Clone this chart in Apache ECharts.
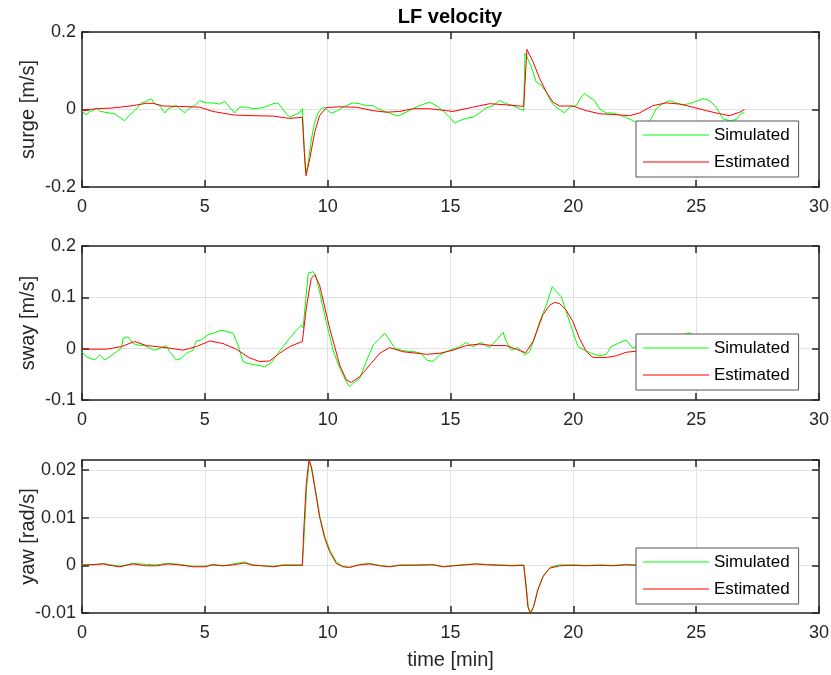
<!DOCTYPE html>
<html>
<head>
<meta charset="utf-8">
<script src="https://cdn.jsdelivr.net/npm/echarts@6/dist/echarts.min.js"></script>
<style>
html,body{margin:0;padding:0;background:#fff;}
#chart{width:831px;height:675px;}
</style>
</head>
<body>
<div id="chart"></div>
<script>
// ---------- data (time in min) ----------
const seriesNames = ['Simulated', 'Estimated'];
const xTicks = [0, 5, 10, 15, 20, 25, 30];
const titleText = 'LF velocity';
const yNames = ['surge [m/s]', 'sway [m/s]', 'yaw [rad/s]'];
const xName = 'time [min]';

// surge
const surgeSimT = [0,0.07,0.18,0.31,0.45,0.58,0.72,0.92,1.13,1.33,1.53,1.74,1.94,2.15,2.42,2.62,2.82,2.96,3.16,3.37,3.5,3.84,3.98,4.18,4.38,4.59,4.79,5.06,5.33,5.6,5.81,6.01,6.21,6.42,6.69,6.96,7.3,7.57,7.78,7.98,8.11,8.32,8.45,8.66,8.86,8.97,9.02,9.1,9.19,9.34,9.47,9.61,9.74,9.88,10.01,10.15,10.35,10.62,10.76,11.03,11.3,11.57,11.84,12.05,12.25,12.52,12.86,13.13,13.47,13.74,14.15,14.42,14.69,14.97,15.17,15.37,15.64,15.91,16.18,16.46,16.73,17.0,17.27,17.54,17.81,17.98,18.03,18.11,18.29,18.49,18.7,18.9,19.1,19.3,19.51,19.64,19.85,20.12,20.32,20.46,20.66,20.86,21.07,21.34,21.61,21.88,22.15,22.42,22.69,22.96,23.17,23.37,23.64,23.91,24.19,24.46,24.73,25.0,25.28,25.55,25.82,26.09,26.36,26.63,26.84,26.97];
const surgeSimV = [-0.003,-0.009,-0.014,-0.005,-0.003,0.004,-0.004,-0.007,-0.009,-0.011,-0.020,-0.029,-0.014,-0.003,0.017,0.021,0.028,0.015,0.010,-0.009,0.002,0.010,0.002,-0.009,0.004,0.010,0.023,0.017,0.017,0.014,0.021,0.006,-0.009,0.006,0.006,0.002,0.004,0.009,0.015,0.017,0.006,-0.011,-0.020,-0.014,-0.009,0.002,-0.068,-0.163,-0.146,-0.076,-0.033,-0.009,0.002,0.006,-0.003,-0.009,-0.005,0.006,0.010,0.017,0.015,0.010,0.010,0.002,-0.003,-0.009,-0.017,-0.009,0.002,0.010,0.019,0.010,-0.003,-0.020,-0.035,-0.029,-0.023,-0.020,-0.009,0.004,0.010,0.023,0.015,0.010,0.002,-0.003,0.145,0.136,0.110,0.071,0.062,0.045,0.019,0.006,-0.003,-0.009,0.006,0.010,0.032,0.041,0.032,0.023,0.002,-0.009,-0.009,-0.014,-0.020,-0.029,-0.033,-0.037,-0.024,0.002,0.015,0.023,0.017,0.012,0.015,0.021,0.028,0.023,0.006,-0.024,-0.029,-0.026,-0.009,-0.009];
const surgeEstT = [0,0.59,1.26,1.67,2.08,2.62,2.89,3.3,3.97,4.79,5.33,6.15,6.96,7.78,8.45,8.97,9.05,9.12,9.27,9.47,9.67,9.94,10.49,11.17,11.85,12.39,12.93,13.47,14.15,14.83,15.1,15.91,16.59,17.27,17.98,18.11,18.36,18.63,18.9,19.17,19.44,19.98,20.53,21.07,21.88,22.29,22.69,23.24,23.78,24.33,24.87,25.41,25.96,26.36,26.77,26.97];
const surgeEstV = [-0.003,0.002,0.004,0.007,0.010,0.016,0.016,0.009,0.008,0.006,-0.005,-0.014,-0.016,-0.017,-0.023,-0.020,-0.111,-0.171,-0.128,-0.059,-0.016,0.005,0.007,0.006,-0.003,-0.007,-0.005,0.002,0.002,-0.003,-0.005,0.006,0.015,0.012,0.008,0.155,0.123,0.080,0.045,0.019,0.009,0.009,-0.003,-0.011,-0.014,-0.016,-0.009,0.010,0.017,0.014,0.006,-0.003,-0.011,-0.016,-0.007,0.000];

// sway
const swaySimT = [0,0.18,0.52,0.72,0.92,1.13,1.4,1.6,1.67,1.87,2.08,2.28,2.55,2.75,2.96,3.23,3.43,3.57,3.84,4.04,4.25,4.52,4.65,4.86,5.13,5.4,5.67,5.94,6.15,6.35,6.55,6.76,7.1,7.44,7.71,7.98,8.18,8.45,8.73,8.93,9.0,9.1,9.21,9.4,9.51,9.67,9.94,10.22,10.49,10.76,10.89,11.03,11.3,11.57,11.85,12.12,12.32,12.52,12.73,13.0,13.27,13.54,13.81,14.02,14.29,14.56,14.97,15.37,15.64,15.91,16.25,16.59,16.93,17.14,17.27,17.48,17.75,18.02,18.22,18.42,18.63,18.9,19.14,19.31,19.51,19.71,19.98,20.19,20.46,20.73,21.07,21.34,21.54,21.81,22.15,22.42,22.7,23.0,23.5,24.0,24.4,24.7,25.0,25.5,26.0,26.5,26.97];
const swaySimV = [-0.006,-0.016,-0.022,-0.012,-0.022,-0.016,-0.006,0.001,0.020,0.023,0.010,0.007,0.006,0.001,-0.003,0.002,0.006,-0.006,-0.022,-0.019,-0.009,-0.003,0.015,0.017,0.027,0.031,0.036,0.033,0.030,0.007,-0.025,-0.029,-0.032,-0.035,-0.027,-0.009,0.004,0.020,0.036,0.046,0.040,0.092,0.147,0.150,0.144,0.111,0.053,-0.003,-0.038,-0.064,-0.074,-0.068,-0.058,-0.025,0.007,0.020,0.030,0.017,0.001,-0.003,-0.005,-0.006,-0.009,-0.022,-0.025,-0.012,-0.003,0.004,0.012,0.004,0.012,0.002,0.020,0.032,0.014,-0.003,0.002,-0.012,-0.006,0.020,0.053,0.085,0.121,0.111,0.101,0.072,0.033,0.004,-0.003,-0.009,-0.014,-0.011,0.004,0.010,0.017,0.001,0.006,0.012,0.018,0.022,0.026,0.031,0.025,0.018,0.010,0.004,0.002];
const swayEstT = [0,1.0,1.6,2.14,2.62,3.43,4.11,4.65,5.2,5.74,6.28,6.82,7.23,7.64,8.04,8.45,8.97,9.13,9.33,9.47,9.67,10.08,10.49,10.76,10.96,11.3,11.71,12.12,12.52,13.07,14.02,14.56,15.1,15.64,16.18,16.73,17.27,17.68,18.06,18.36,18.76,19.04,19.24,19.44,19.71,19.98,20.25,20.53,20.8,21.34,21.75,22.15,22.56,23.2,24.0,25.0,26.0,26.97];
const swayEstV = [-0.001,-0.001,0.004,0.014,0.006,0.002,-0.003,0.004,0.015,0.010,-0.001,-0.018,-0.025,-0.024,-0.009,0.004,0.014,0.079,0.137,0.144,0.124,0.040,-0.032,-0.061,-0.066,-0.055,-0.032,-0.009,0.002,-0.006,-0.011,-0.009,-0.003,0.006,0.009,0.006,0.006,-0.001,-0.008,0.014,0.066,0.085,0.090,0.088,0.075,0.053,0.020,-0.006,-0.017,-0.017,-0.014,-0.007,-0.005,0.000,0.003,0.004,0.000,0.000];

// yaw
const yawSimT = [0,0.5,0.86,1.2,1.53,2.08,2.62,3.03,3.5,3.97,4.52,5.0,5.33,5.74,6.15,6.62,6.96,7.37,7.78,8.18,8.59,8.97,9.04,9.15,9.26,9.36,9.5,9.7,9.9,10.1,10.35,10.62,10.89,11.3,11.71,12.12,12.52,12.93,13.47,14.29,14.7,15.37,15.64,16.04,16.5,17.0,17.5,17.98,18.08,18.17,18.27,18.4,18.58,18.8,19.06,19.44,19.98,20.53,21.07,21.61,22.15,22.56,24.0,25.0,26.0,26.97];
const yawSimV = [0.0002,0.0001,0.0004,0.0001,-0.0002,0.0004,0.0002,0.0001,0.0004,0.0002,-0.0002,-0.0002,0.0002,-0.0001,0.0003,0.0007,0.0001,-0.0001,-0.0002,0.0001,0.0001,0.0001,0.0060,0.0168,0.0220,0.0203,0.0160,0.0098,0.0058,0.0031,0.0007,-0.0002,-0.0005,0.0002,0.0004,0.0000,-0.0003,0.0001,0.0001,0.0002,-0.0003,0.0001,0.0002,0.0003,0.0002,0.0001,0.0000,0.0001,-0.0040,-0.0088,-0.0100,-0.0084,-0.0048,-0.0020,-0.0004,0.0001,0.0001,0.0000,0.0001,0.0000,0.0002,0.0001,0.0001,0.0000,0.0001,0.0000];
const yawEstT = [0,0.86,1.13,1.53,2.08,2.62,3.03,3.5,3.97,4.52,5.0,5.33,5.74,6.15,6.62,6.96,7.37,7.78,8.18,8.59,8.97,9.02,9.13,9.24,9.33,9.47,9.67,9.88,10.08,10.35,10.62,10.89,11.3,11.71,12.12,12.52,12.93,13.47,14.29,14.7,15.37,15.64,16.04,16.5,17.0,17.5,17.98,18.06,18.15,18.25,18.38,18.55,18.76,19.04,19.44,19.98,20.53,21.07,21.61,22.15,22.56,24.0,25.0,26.0,26.97];
const yawEstV = [0.0000,0.0003,0.0000,-0.0003,0.0003,-0.0001,-0.0001,0.0003,0.0001,-0.0003,-0.0003,0.0001,-0.0001,0.0001,0.0005,0.0000,-0.0001,-0.0003,0.0000,0.0000,0.0000,0.0067,0.0172,0.0221,0.0207,0.0165,0.0102,0.0057,0.0029,0.0004,-0.0003,-0.0004,0.0001,0.0003,-0.0001,-0.0003,0.0000,0.0000,0.0001,-0.0003,0.0000,0.0001,0.0003,0.0001,0.0000,-0.0001,0.0000,-0.0038,-0.0087,-0.0101,-0.0087,-0.0052,-0.0024,-0.0006,-0.0001,0.0000,-0.0001,0.0000,-0.0001,0.0001,0.0000,0.0000,0.0000,0.0000,0.0000];

// axis ranges
const yRanges = [
  {min: -0.2, max: 0.2, interval: 0.2},
  {min: -0.1, max: 0.2, interval: 0.1},
  {min: -0.01, max: 0.0221, interval: 0.01}
];

// ---------- chart ----------
const FONT = '"Liberation Sans", Arial, Helvetica, sans-serif';
const AX = '#262626';
const GREEN = '#00ff00', RED = '#ff0000';
const gridBoxes = [
  {left: 82, top: 32, width: 737, height: 155},
  {left: 82, top: 246, width: 737, height: 154},
  {left: 82, top: 460, width: 737, height: 153}
];
const legendTops = [121, 334, 548];

const zip = (t, v) => t.map((x, i) => [x, v[i]]);
const simData = [zip(surgeSimT, surgeSimV), zip(swaySimT, swaySimV), zip(yawSimT, yawSimV)];
const estData = [zip(surgeEstT, surgeEstV), zip(swayEstT, swayEstV), zip(yawEstT, yawEstV)];

const axisLine = {show: true, onZero: false, lineStyle: {color: AX, width: 1.5}};
const axisTick = {show: true, inside: true, length: 7, lineStyle: {color: AX, width: 1.5}};
const splitLine = {show: true, lineStyle: {color: '#e2e2e2', width: 1}};

const xAxes = [], yAxes = [], series = [], legends = [];
gridBoxes.forEach((g, i) => {
  xAxes.push({
    gridIndex: i, type: 'value', position: 'bottom',
    min: xTicks[0], max: xTicks[xTicks.length - 1], interval: xTicks[1] - xTicks[0],
    axisLine, axisTick, splitLine,
    axisLabel: {fontSize: 18, color: AX, margin: 11, fontFamily: FONT},
    name: i === 2 ? xName : '', nameLocation: 'middle', nameGap: 37, nameMoveOverlap: false,
    nameTextStyle: {fontSize: 20, color: AX, fontFamily: FONT}
  });
  xAxes.push({
    gridIndex: i, type: 'value', position: 'top',
    min: xTicks[0], max: xTicks[xTicks.length - 1], interval: xTicks[1] - xTicks[0],
    axisLine, axisTick, splitLine: {show: false}, axisLabel: {show: false}
  });
  const r = yRanges[i];
  yAxes.push({
    gridIndex: i, type: 'value', position: 'left',
    min: r.min, max: r.max, interval: r.interval,
    axisLine, axisTick, splitLine,
    axisLabel: {fontSize: 18, color: AX, margin: 6, fontFamily: FONT, showMaxLabel: i !== 2},
    name: yNames[i], nameLocation: 'middle', nameGap: 44, nameRotate: 90, nameMoveOverlap: false,
    nameTextStyle: {fontSize: 20, color: AX, fontFamily: FONT}
  });
  yAxes.push({
    gridIndex: i, type: 'value', position: 'right',
    min: r.min, max: r.max, interval: r.interval,
    axisLine, axisTick, splitLine: {show: false}, axisLabel: {show: false}
  });
  series.push({
    name: seriesNames[0], type: 'line', xAxisIndex: 2 * i, yAxisIndex: 2 * i,
    data: simData[i], symbol: 'none', animation: false,
    lineStyle: {color: GREEN, width: 1}, itemStyle: {color: GREEN}, z: 2
  });
  series.push({
    name: seriesNames[1], type: 'line', xAxisIndex: 2 * i, yAxisIndex: 2 * i,
    data: estData[i], symbol: 'none', animation: false,
    lineStyle: {color: RED, width: 1}, itemStyle: {color: RED}, z: 3
  });
  legends.push({
    data: seriesNames, orient: 'vertical', left: 636, top: legendTops[i],
    backgroundColor: '#fff', borderColor: '#555', borderWidth: 1, borderRadius: 0,
    padding: [5.5, 9, 6.5, 7], itemGap: 10, itemWidth: 66, itemHeight: 1.2,
    icon: 'rect', selectedMode: false,
    textStyle: {fontSize: 17, color: '#000', fontFamily: FONT, lineHeight: 17}
  });
});

const chart = echarts.init(document.getElementById('chart'), null, {renderer: 'canvas'});
chart.setOption({
  backgroundColor: '#fff',
  animation: false,
  title: {
    text: titleText, left: 450, top: 7, textAlign: 'center', padding: 0,
    textStyle: {fontSize: 20, fontWeight: 'bold', color: '#000', fontFamily: FONT}
  },
  grid: gridBoxes.map(g => Object.assign({containLabel: false, outerBoundsMode: 'none'}, g)),
  xAxis: xAxes,
  yAxis: yAxes,
  legend: legends,
  series
});
</script>
</body>
</html>
